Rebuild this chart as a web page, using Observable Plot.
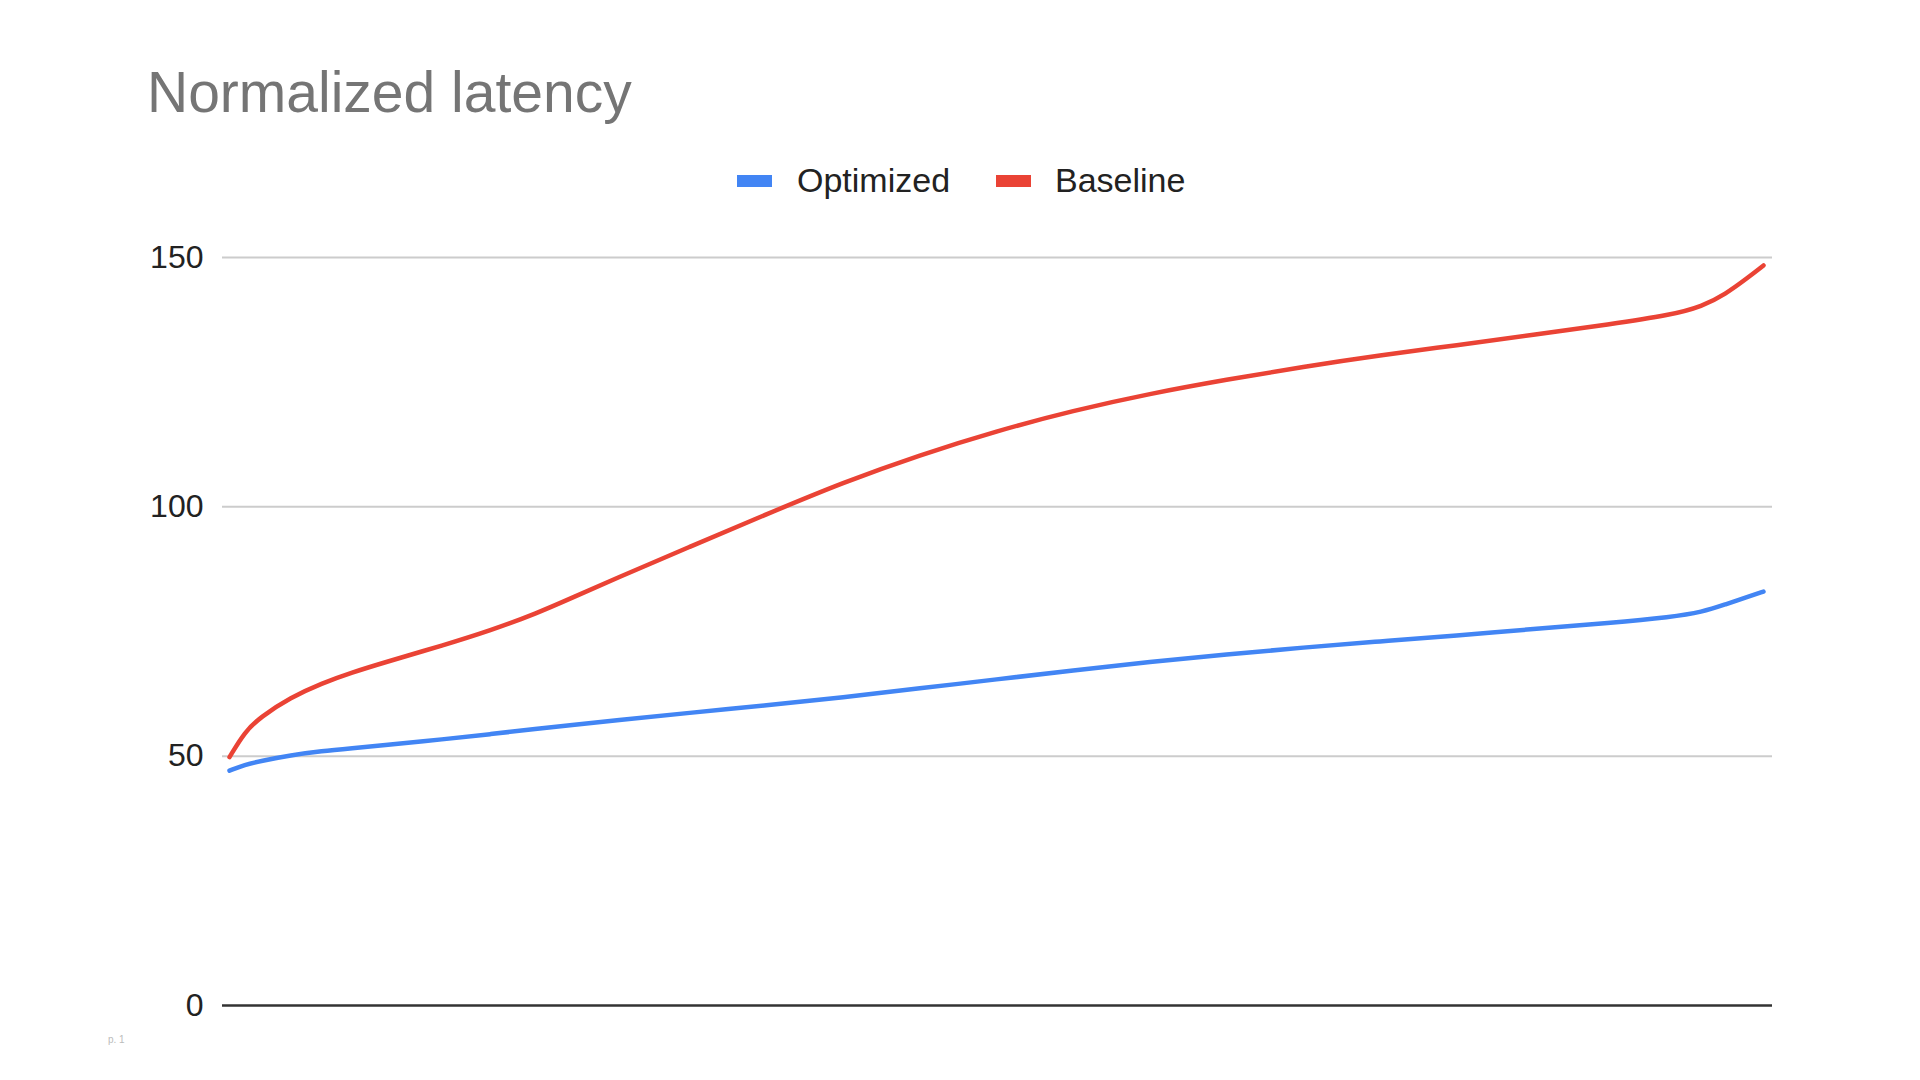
<!DOCTYPE html>
<html>
<head>
<meta charset="utf-8">
<script src="https://cdn.jsdelivr.net/npm/d3@7"></script>
<script src="https://cdn.jsdelivr.net/npm/@observablehq/plot@0.6"></script>
<style>
  html, body { margin: 0; padding: 0; background: #fff; }
  #page { position: relative; width: 1920px; height: 1080px; overflow: hidden; font-family: Arial, "Liberation Sans", sans-serif; }
  #title { position: absolute; left: 147px; top: 64px; font-size: 57px; line-height: 57px; color: #757575; white-space: nowrap; }
  .leg-swatch { position: absolute; top: 175px; width: 35px; height: 12px; }
  .leg-text { position: absolute; top: 163px; font-size: 34px; line-height: 34px; color: #222; white-space: nowrap; }
  #chart { position: absolute; left: 0; top: 200px; }
  #page-num { position: absolute; left: 108px; top: 1035px; font-size: 10px; line-height: 10px; color: #bbb; }
</style>
</head>
<body>
<div id="page">
  <div id="title">Normalized latency</div>
  <div id="legend"></div>
  <div id="chart"></div>
  <div id="page-num">p. 1</div>
</div>
<script>
const percentiles = [0, 1, 2, 4, 6, 8, 10, 14, 17, 20, 22.5, 25, 30, 35, 40, 45, 50, 55, 60, 65, 70, 75, 80, 85, 90, 94, 96, 97.5, 99, 100];
const optimized = [47.1, 48.3, 49.0, 50.2, 51.0, 51.6, 52.2, 53.4, 54.4, 55.5, 56.3, 57.1, 58.7, 60.2, 61.8, 63.6, 65.4, 67.2, 68.9, 70.4, 71.8, 73.0, 74.2, 75.5, 76.7, 77.9, 78.9, 80.4, 82.0, 83.0];
const baseline = [49.8, 54.9, 57.8, 61.8, 64.6, 66.8, 68.7, 72.3, 75.2, 78.6, 82.0, 85.4, 92.0, 98.5, 104.9, 110.4, 115.2, 119.3, 122.7, 125.5, 128.1, 130.4, 132.4, 134.5, 136.6, 138.5, 140.2, 142.6, 146.0, 148.4];
const seriesNames = ["Optimized", "Baseline"];
const seriesColors = ["#4285F4", "#EA4335"];
const yTicks = [0, 50, 100, 150];

const rows = [];
percentiles.forEach((p, i) => {
  rows.push({p, value: optimized[i], series: seriesNames[0]});
  rows.push({p, value: baseline[i], series: seriesNames[1]});
});

// Legend (HTML, above the SVG)
const legend = document.getElementById("legend");
const legendPos = [{sw: 737, tx: 797}, {sw: 996, tx: 1055}];
seriesNames.forEach((name, i) => {
  const sw = document.createElement("div");
  sw.className = "leg-swatch";
  sw.style.left = legendPos[i].sw + "px";
  sw.style.background = seriesColors[i];
  legend.appendChild(sw);
  const tx = document.createElement("div");
  tx.className = "leg-text";
  tx.style.left = legendPos[i].tx + "px";
  tx.textContent = name;
  legend.appendChild(tx);
});

const chart = Plot.plot({
  width: 1920,
  height: 880,
  marginTop: 57,
  marginBottom: 75,
  marginLeft: 222,
  marginRight: 148,
  style: {fontFamily: 'Arial, "Liberation Sans", sans-serif', background: "transparent", color: "#222"},
  x: {domain: [0, 100], axis: null, insetLeft: 7, insetRight: 9},
  y: {domain: [0, 150], axis: null},
  color: {domain: seriesNames, range: seriesColors},
  marks: [
    Plot.gridY(yTicks.filter(d => d !== 0), {stroke: "#cccccc", strokeOpacity: 1, strokeWidth: 2}),
    Plot.axisY(yTicks, {tickSize: 0, tickPadding: 19, fontSize: 32, fill: "#222", label: null}),
    Plot.line(rows, {x: "p", y: "value", z: "series", stroke: "series", strokeWidth: 4.5, curve: "basis", strokeLinecap: "round", strokeLinejoin: "round"}),
    Plot.ruleY([0], {stroke: "#333", strokeWidth: 2.6})
  ]
});
document.getElementById("chart").appendChild(chart);
</script>
</body>
</html>
